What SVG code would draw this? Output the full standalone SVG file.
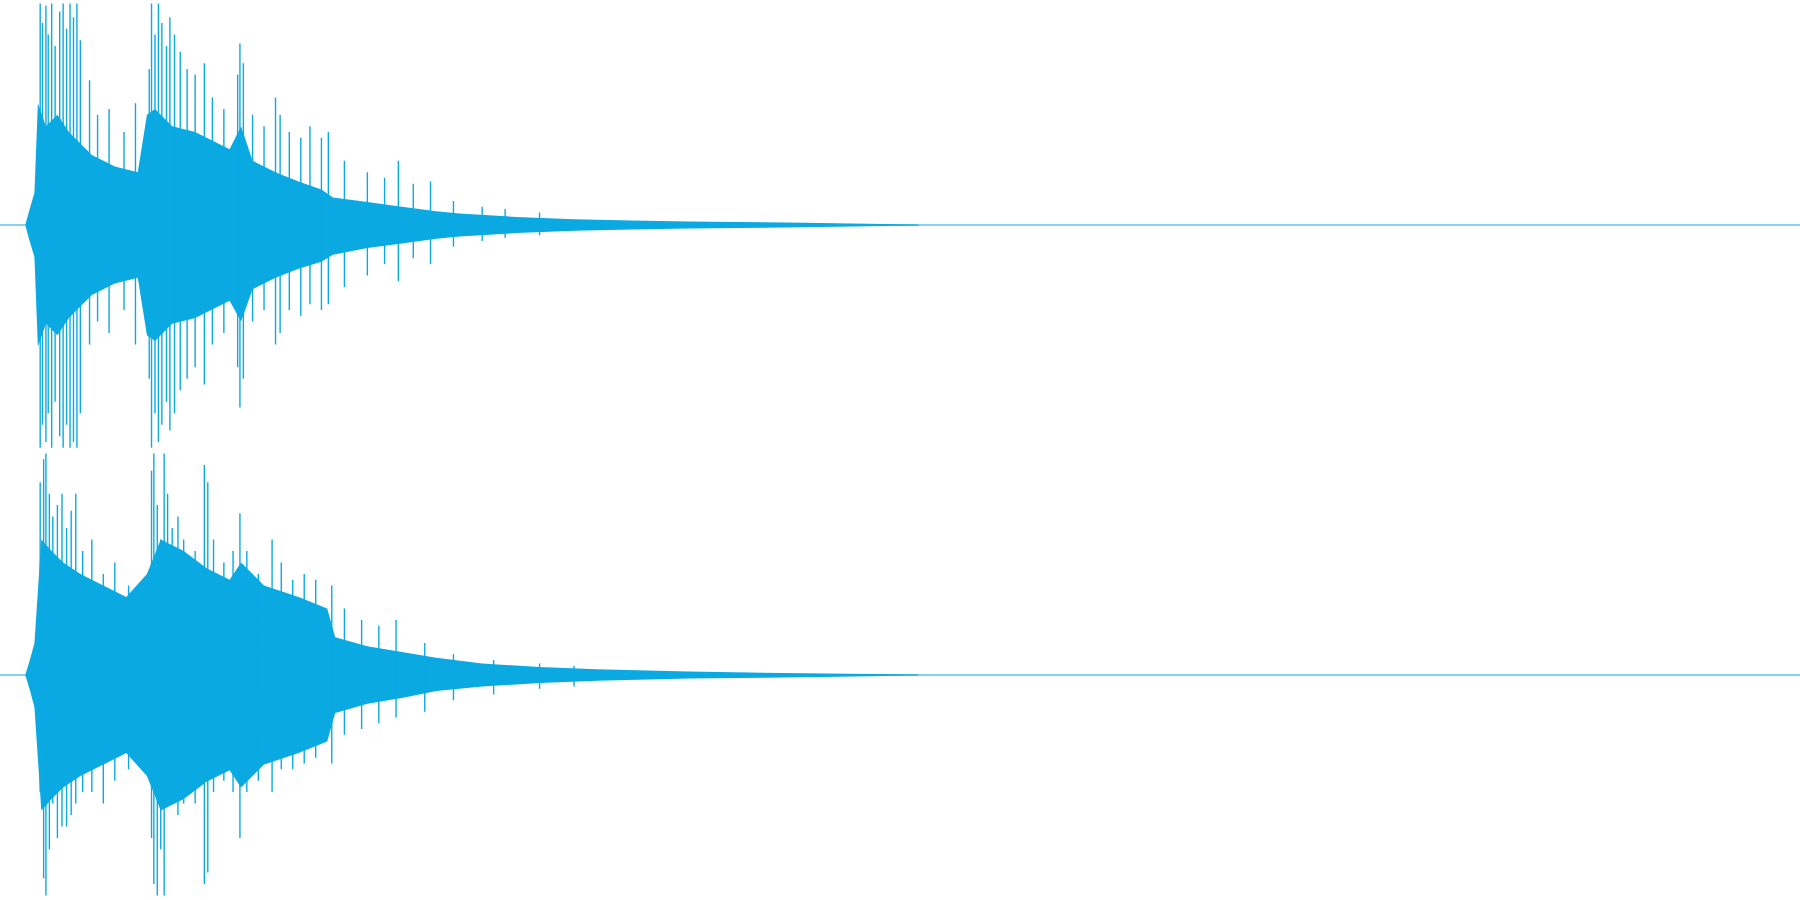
<svg xmlns="http://www.w3.org/2000/svg" width="1800" height="900" viewBox="0 0 1800 900">
<style>.env{fill:#0aa9e2}.sp{stroke:#0aa9e2;stroke-width:1.2;fill:none}.axis{stroke:#0aa9e2;stroke-width:1}</style>
<rect width="1800" height="900" fill="#fff"/>
<g transform="scale(1.148)">
<g id="ch1">
<line class="axis" x1="0" y1="196" x2="1568" y2="196"/>
<polygon class="env" points="22,196 25,185 30,168 33,90 40,110 50,100 60,115 70,125 80,135 100,145 120,150 128,100 135,95 150,110 170,115 200,130 210,110 220,140 240,150 260,158 280,165 290,172 320,176 350,180 380,184 400,186 450,189 500,191 550,192 600,193 700,194 800,195.5 800,196.5 700,198 600,199 550,200 500,201 450,203 400,206 380,208 350,212 320,216 290,222 280,228 260,234 240,242 220,252 210,280 200,262 170,277 150,282 135,297 128,292 120,242 100,247 80,257 70,267 60,277 50,292 40,282 33,302 30,224 25,207"/>
<path class="sp" d="M35 3V390M37 20V370M40 5V385M42 30V360M45 3V390M48 40V350M52 10V380M55 3V390M58 25V370M61 3V390M64 15V385M67 3V390M70 35V360M78 70V300M85 100V280M95 95V290M108 115V270M118 90V300M130 60V330M132 3V390M135 30V360M138 3V385M141 20V370M145 40V350M148 15V375M152 30V360M157 45V340M163 60V330M170 65V320M178 55V335M185 85V300M195 95V290M207 65V320M209 38V355M212 55V330M220 100V280M230 110V270M240 85V300M244 100V290M252 115V270M262 120V275M270 110V265M280 120V270M286 115V265M300 140V250M320 150V240M335 155V230M347 140V245M360 160V225M375 158V230M395 175V215M420 180V210M440 182V207M470 185V205"/>
</g>
<g id="ch2">
<line class="axis" x1="0" y1="588" x2="1568" y2="588"/>
<polygon class="env" points="22,588 26,575 30,560 36,470 45,480 55,490 70,500 90,510 110,520 128,500 140,470 160,480 180,495 200,505 210,490 230,510 260,520 285,530 292,555 320,563 350,568 380,573 420,578 470,581 520,583 600,585 700,586.5 800,587.5 800,588.5 700,590 600,591 520,593 470,595 420,598 380,602 350,608 320,613 292,621 285,646 260,656 230,666 210,686 200,671 180,681 160,696 140,706 128,676 110,656 90,666 70,676 55,686 45,696 36,706 30,616 26,601"/>
<path class="sp" d="M35 420V690M38 400V765M40 395V780M43 430V740M46 450V700M50 440V730M54 430V720M58 460V720M62 445V710M66 430V700M72 480V690M80 470V690M90 500V700M100 490V680M112 510V670M125 520V660M132 410V730M134 395V770M137 440V780M140 470V740M143 395V780M146 430V700M150 460V690M155 450V710M160 470V700M170 480V700M178 405V770M181 420V760M186 470V690M195 490V680M203 480V690M209 447V730M215 480V690M225 500V680M237 470V690M245 490V670M255 505V670M265 500V665M275 505V660M289 510V665M300 530V640M315 540V635M330 545V630M345 540V625M370 560V620M395 570V610M430 575V605M470 578V600M500 580V598"/>
</g>
</g>
</svg>
